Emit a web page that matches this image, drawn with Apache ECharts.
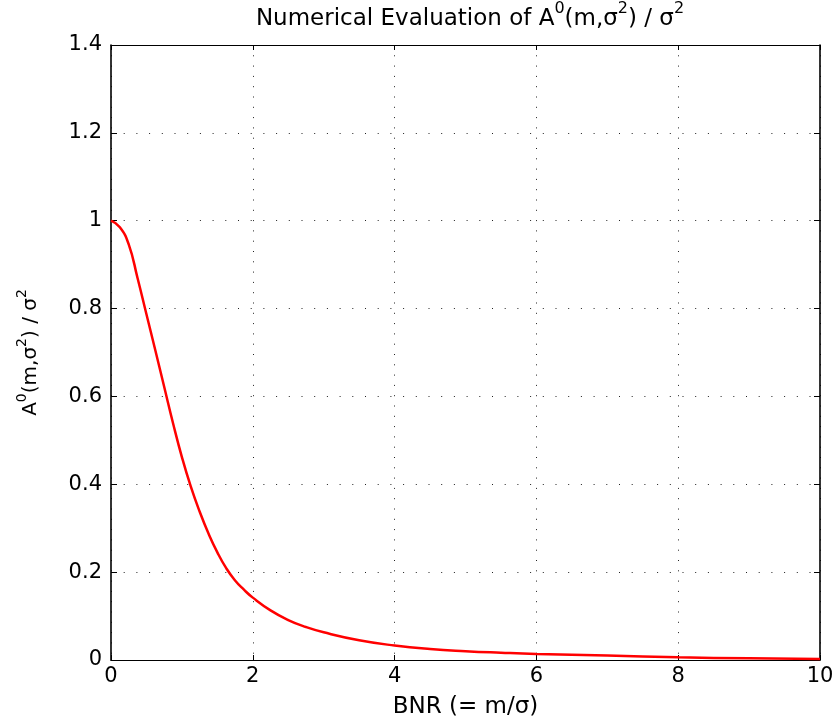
<!DOCTYPE html>
<html><head><meta charset="utf-8">
<script src="https://cdn.jsdelivr.net/npm/echarts@6/dist/echarts.min.js"></script>
<style>html,body{margin:0;padding:0;background:#fff}#c{width:839px;height:726px}</style>
</head><body><div id="c"></div>
<script>
const bnr = [0, 0.125, 0.25, 0.375, 0.5, 0.625, 0.75, 0.875, 1.0, 1.125, 1.25, 1.375, 1.5, 1.625, 1.75, 1.875, 2.0, 2.25, 2.5, 2.75, 3.0, 3.5, 4.0, 4.5, 5.0, 5.5, 6.0, 7.0, 8.0, 9.0, 10.0];
const aRatio = [1.0, 0.985, 0.946, 0.869, 0.787, 0.705, 0.622, 0.539, 0.462, 0.395, 0.338, 0.288, 0.245, 0.209, 0.181, 0.160, 0.142, 0.113, 0.091, 0.075, 0.063, 0.045, 0.033, 0.025, 0.020, 0.0165, 0.0137, 0.010, 0.006, 0.004, 0.002];
const xTicks = [0, 2, 4, 6, 8, 10];
const yTicks = [0, 0.2, 0.4, 0.6, 0.8, 1, 1.2, 1.4];

const font = 'DejaVu Sans, Liberation Sans, sans-serif';
const chart = echarts.init(document.getElementById('c'), null, {renderer: 'canvas'});
const grid = {left: 111, right: 19, top: 45, bottom: 66};
const dotColor = '#222';
chart.setOption({
  animation: false,
  backgroundColor: '#fff',
  title: {
    text: '{t|Numerical Evaluation of A}{s|0}{t|(m,σ}{s|2}{t|) / σ}{s|2}',
    left: 465, top: -4, textAlign: 'center',
    textStyle: {
      fontWeight: 'normal',
      rich: {
        t: {fontFamily: font, fontSize: 23, fontWeight: 'normal', color: '#000', verticalAlign: 'bottom', lineHeight: 30},
        s: {fontFamily: font, fontSize: 16, fontWeight: 'normal', color: '#000', verticalAlign: 'top', lineHeight: 30, padding: [0,0,12,0]}
      }
    }
  },
  grid: grid,
  xAxis: [{
    type: 'value', min: 0, max: 10, interval: 2,
    position: 'bottom',
    axisLine: {show: true, onZero: false, lineStyle: {color: '#000', width: 1.2}},
    axisTick: {show: true, inside: true, length: 5, lineStyle: {color: '#000'}},
    axisLabel: {fontFamily: font, fontSize: 21, color: '#000', margin: 6,
      formatter: v => String(xTicks.find(t => Math.abs(t - v) < 1e-9) ?? v)},
    splitLine: {show: true, lineStyle: {color: dotColor, type: [1, 9.3], width: 1}},
    name: 'BNR (= m/σ)', nameLocation: 'middle', nameGap: 36,
    nameTextStyle: {fontFamily: font, fontSize: 23, color: '#000'}
  }, {
    type: 'value', min: 0, max: 10, interval: 2, position: 'top',
    axisLine: {show: true, onZero: false, lineStyle: {color: '#000', width: 1.2}},
    axisTick: {show: true, inside: true, length: 5, lineStyle: {color: '#000'}},
    axisLabel: {show: false}, splitLine: {show: false}
  }],
  yAxis: [{
    type: 'value', min: 0, max: 1.4, interval: 0.2,
    position: 'left',
    axisLine: {show: true, onZero: false, lineStyle: {color: '#000', width: 1.6}},
    axisTick: {show: true, inside: true, length: 6, lineStyle: {color: '#000'}},
    axisLabel: {fontFamily: font, fontSize: 21, color: '#000', margin: 9,
      formatter: v => { const t = yTicks.find(t => Math.abs(t - v) < 1e-9); return String(t ?? v); }},
    splitLine: {show: true, lineStyle: {color: dotColor, type: [1, 11.7], width: 1}},
    name: '{t|A}{s|0}{t|(m,σ}{s|2}{t|) / σ}{s|2}', nameLocation: 'middle', nameGap: 70, nameRotate: 90,
    nameTextStyle: {
      rich: {
        t: {fontFamily: font, fontSize: 20, color: '#000', verticalAlign: 'bottom', lineHeight: 26},
        s: {fontFamily: font, fontSize: 14, color: '#000', verticalAlign: 'top', lineHeight: 26, padding: [0,0,10,0]}
      }
    }
  }, {
    type: 'value', min: 0, max: 1.4, interval: 0.2, position: 'right',
    axisLine: {show: true, onZero: false, lineStyle: {color: '#000', width: 1.6}},
    axisTick: {show: true, inside: true, length: 6, lineStyle: {color: '#000'}},
    axisLabel: {show: false}, splitLine: {show: false}
  }],
  series: [{
    type: 'line', xAxisIndex: 0, yAxisIndex: 0,
    data: bnr.map((x, i) => [x, aRatio[i]]),
    smooth: 0.5, showSymbol: false,
    lineStyle: {color: '#ff0000', width: 2.5}
  }]
});
</script></body></html>
